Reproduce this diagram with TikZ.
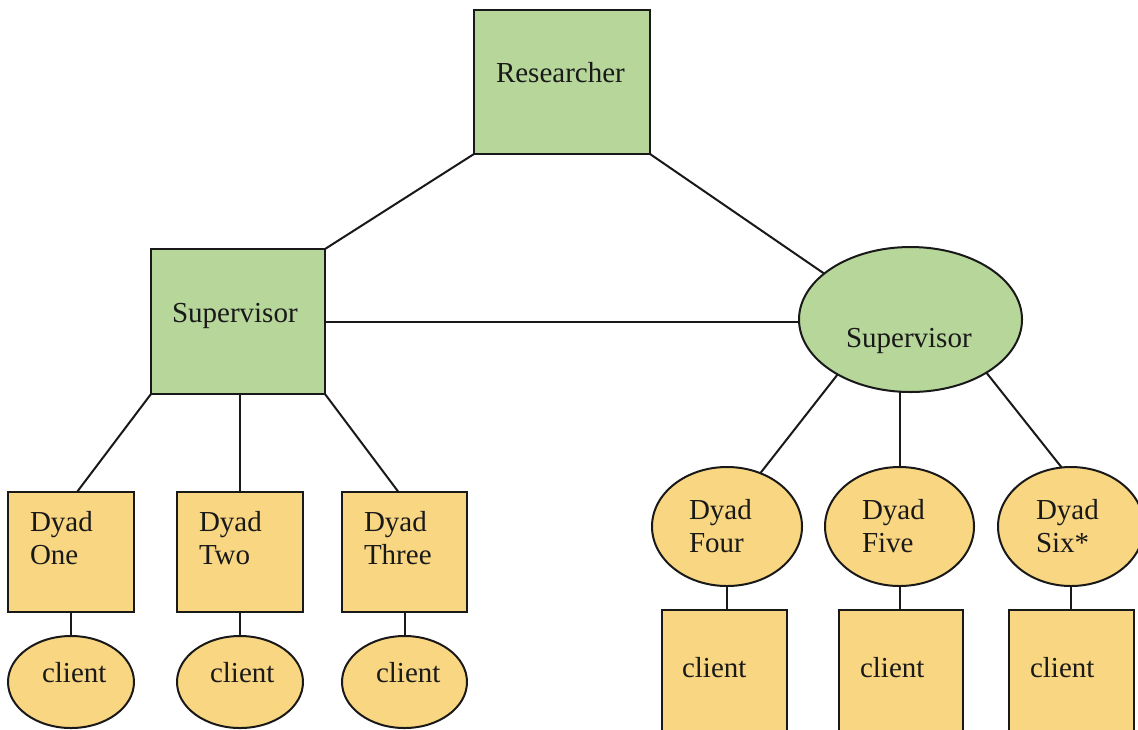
\documentclass[tikz,border=0pt]{standalone}
\usepackage{fontspec}
\setmainfont{Liberation Serif}
\usetikzlibrary{shapes.geometric}
\definecolor{sgreen}{RGB}{182,214,154}
\definecolor{syellow}{RGB}{249,214,130}
\definecolor{ink}{RGB}{25,25,25}
\begin{document}
\begin{tikzpicture}[x=0.5pt,y=-0.5pt,
  every node/.style={inner sep=0pt,outer sep=0pt},
  shp/.style={draw=ink,line width=1pt},
  gbox/.style={shp,rectangle,fill=sgreen},
  gell/.style={shp,ellipse,fill=sgreen},
  ybox/.style={shp,rectangle,fill=syellow},
  yell/.style={shp,ellipse,fill=syellow},
  txt/.style={text=ink,font=\fontsize{14.5}{16.75}\selectfont,align=left},
  link/.style={draw=ink,line width=1pt}]
\clip (0,0) rectangle (1138,729);
\fill[white] (0,0) rectangle (1138,729);
% boxes
\node[gbox,minimum width=88pt,minimum height=72pt] (res) at (562,82) {};
\node[gbox,minimum width=87pt,minimum height=72.5pt] (lsup) at (238,321.5) {};
\node[gell,minimum width=111.5pt,minimum height=72.5pt] (rsup) at (910.5,319.5) {};
\node[ybox,minimum width=63pt,minimum height=60pt] (d1) at (71,552) {};
\node[ybox,minimum width=63pt,minimum height=60pt] (d2) at (240,552) {};
\node[ybox,minimum width=62.5pt,minimum height=60pt] (d3) at (404.5,552) {};
\node[yell,minimum width=63pt,minimum height=46pt] (c1) at (71,682) {};
\node[yell,minimum width=63pt,minimum height=46pt] (c2) at (240,682) {};
\node[yell,minimum width=62.5pt,minimum height=46pt] (c3) at (404.5,682) {};
\node[yell,minimum width=75pt,minimum height=59.5pt] (d4) at (727,526.5) {};
\node[yell,minimum width=74.5pt,minimum height=59.5pt] (d5) at (899.5,526.5) {};
\node[yell,minimum width=73pt,minimum height=59.5pt] (d6) at (1071,526.5) {};
\node[ybox,minimum width=62.5pt,minimum height=95pt] (c4) at (724.5,705) {};
\node[ybox,minimum width=62pt,minimum height=95pt] (c5) at (901,705) {};
\node[ybox,minimum width=62.5pt,minimum height=95pt] (c6) at (1071.5,705) {};
% connectors
\draw[link] (res.south west) -- (lsup.north east);
\draw[link] (res.south east) -- (rsup.152);
\draw[link] (lsup.east) -- (lsup.east -| rsup.west);
\draw[link] (lsup.south west) -- ([xshift=3pt]d1.north);
\draw[link] (d2.north) -- (d2.north |- lsup.south);
\draw[link] (lsup.south east) -- ([xshift=-3pt]d3.north);
\draw[link] (d1.south) -- (c1.north);
\draw[link] (d2.south) -- (c2.north);
\draw[link] (d3.south) -- (c3.north);
\draw[link] (rsup.217) -- (d4.58);
\draw[link] (d5.north) -- (d5.north |- rsup.south);
\draw[link] (rsup.325) -- (d6.99);
\draw[link] (d4.south) -- (d4.south |- c4.north);
\draw[link] (d5.south) -- (d5.south |- c5.north);
\draw[link] (d6.south) -- (d6.south |- c6.north);
% texts
\node[txt,anchor=base west] (tres) at (496,82) {Researcher};
\node[txt,anchor=base west] (tlsup) at (172,322) {Supervisor};
\node[txt,anchor=base west] (trsup) at (846,347) {Supervisor};
\node[txt,anchor=north west] (td1) at (30,511) {Dyad\\One};
\node[txt,anchor=north west] (td2) at (199,511) {Dyad\\Two};
\node[txt,anchor=north west] (td3) at (364,511) {Dyad\\Three};
\node[txt,anchor=north west] (td4) at (689,499) {Dyad\\Four};
\node[txt,anchor=north west] (td5) at (862,499) {Dyad\\Five};
\node[txt,anchor=north west] (td6) at (1036,499) {Dyad\\Six*};
\node[txt,anchor=base west] (tc1) at (42,682) {client};
\node[txt,anchor=base west] (tc2) at (210,682) {client};
\node[txt,anchor=base west] (tc3) at (376,682) {client};
\node[txt,anchor=base west] (tc4) at (682,677) {client};
\node[txt,anchor=base west] (tc5) at (860,677) {client};
\node[txt,anchor=base west] (tc6) at (1030,677) {client};
\end{tikzpicture}
\end{document}
